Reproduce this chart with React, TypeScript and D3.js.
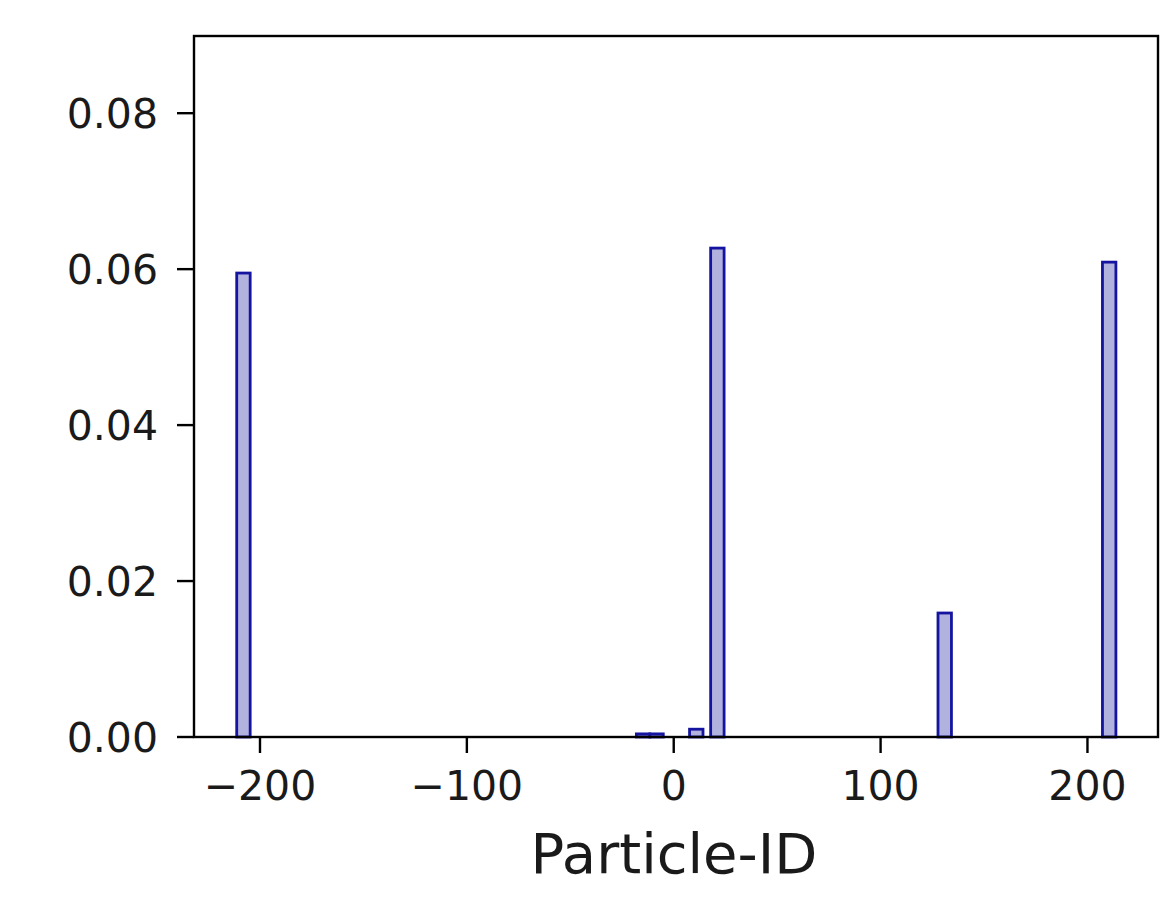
import React from "react";
import * as d3 from "d3";

const binCenters = [-208, -14.8, -8.3, 10.9, 21.1, 131, 210.5];
const binValues = [0.0595, 0.0004, 0.0004, 0.001, 0.0627, 0.0159, 0.0609];
const binWidth = 6.5;
const xTicks = [-200, -100, 0, 100, 200];
const yTicks = [0, 0.02, 0.04, 0.06, 0.08];
const xLabel = "Particle-ID";

const W = 1173;
const H = 897;
const L = 194, R = 1158, T = 36, B = 737;

export default function App() {
  const x = d3.scaleLinear().domain([-231.9, 234.1]).range([L, R]);
  const y = d3.scaleLinear().domain([0, 0.0899]).range([B, T]);
  const font = "'DejaVu Sans', sans-serif";
  const fmtX = (v: number) => (v < 0 ? "\u2212" + Math.abs(v) : String(v));
  const fmtY = d3.format(".2f");
  return (
    <svg width={W} height={H} style={{ position: "absolute", left: 0, top: 0, background: "#fff" }}>
      <rect x={0} y={0} width={W} height={H} fill="#fff" />
      {binCenters.map((c, i) => {
        const x0 = x(c - binWidth / 2);
        const x1 = x(c + binWidth / 2);
        return (
          <rect
            key={i}
            x={x0}
            y={y(binValues[i])}
            width={x1 - x0}
            height={B - y(binValues[i])}
            fill="rgb(178,178,222)"
            stroke="#1414a0"
            strokeWidth={2.8}
          />
        );
      })}
      <rect x={L} y={T} width={R - L} height={B - T} fill="none" stroke="#000" strokeWidth={2.4} />
      {xTicks.map((t) => (
        <g key={"x" + t}>
          <line x1={x(t)} x2={x(t)} y1={B} y2={B + 16} stroke="#000" strokeWidth={2.4} />
          <text x={x(t)} y={800} textAnchor="middle" fontFamily={font} fontSize={41} fill="#1a1a1a">
            {fmtX(t)}
          </text>
        </g>
      ))}
      {yTicks.map((t) => (
        <g key={"y" + t}>
          <line x1={L - 17} x2={L} y1={y(t)} y2={y(t)} stroke="#000" strokeWidth={2.4} />
          <text x={158} y={y(t) + 15} textAnchor="end" fontFamily={font} fontSize={41} fill="#1a1a1a">
            {fmtY(t)}
          </text>
        </g>
      ))}
      <text x={(L + R) / 2 - 2} y={873} textAnchor="middle" fontFamily={font} fontSize={56} fill="#1a1a1a">
        {xLabel}
      </text>
    </svg>
  );
}
